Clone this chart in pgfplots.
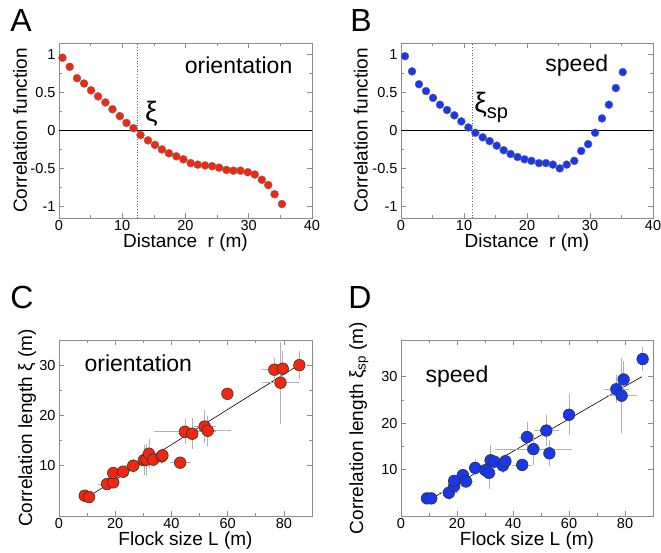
\documentclass[border=0pt]{standalone}
\usepackage{fontspec}
\setmainfont{Liberation Sans}
\usepackage{pgfplots}
\pgfplotsset{compat=1.18}
\definecolor{dotred}{RGB}{240,40,15}
\definecolor{dotblue}{RGB}{25,55,235}
\definecolor{framegray}{RGB}{140,140,140}

\pgfplotsset{
  panel/.style={
    scale only axis, anchor=south west,
    axis line style={framegray, line width=0.9pt},
    tick style={framegray, line width=0.6pt},
    major tick length=5pt, minor tick length=3pt,
    tick align=inside,
    ticklabel style={font=\fontsize{14.5}{14.5}\selectfont},
    xticklabel style={yshift=1.5pt},
    label style={font=\fontsize{19}{19}\selectfont},
    /pgf/number format/assume math mode=true,
    xlabel style={at={(axis description cs:0.5,-0.14)}, anchor=center, inner sep=1pt},
  },
  corr/.style={panel, width=253pt, height=175pt,
    xmin=0, xmax=40, ymin=-1.154, ymax=1.154,
    xtick={0,10,20,30,40}, ytick={-1,-0.5,0,0.5,1},
    yticklabels={-1,-0.5,0,0.5,1},
    minor x tick num=1, minor y tick num=1,
    xlabel={Distance\ \ r (m)}, ylabel={Correlation function}},
  sizeplot/.style={panel, width=253pt, height=176pt,
    xmin=0, xmax=90, ymin=0,
    xtick={0,20,40,60,80}, ytick={10,20,30},
    minor x tick num=1, minor y tick num=1,
    xlabel={Flock size L (m)}},
  dots/.style={only marks, mark=*, mark size=4pt,
    mark options={draw=black!55, line width=0.4pt, fill=#1}},
  bigdots/.style={only marks, mark=*, mark size=5.8pt,
    mark options={draw=black!80, line width=0.6pt, fill=#1},
    error bars/.cd, x dir=both, x explicit, y dir=both, y explicit,
    error bar style={gray!60, line width=0.6pt},
    error mark options={gray!60, mark size=2.5pt, line width=0.6pt}},
}

\pgfplotstableread{
x y
0.55 0.96
1.69 0.84
2.85 0.69
3.96 0.62
5.07 0.53
6.18 0.45
7.34 0.37
8.45 0.28
9.62 0.19
10.67 0.10
11.78 0.03
12.89 -0.06
14.06 -0.13
15.17 -0.19
16.27 -0.25
17.38 -0.30
18.55 -0.34
19.66 -0.38
20.82 -0.43
21.93 -0.45
23.09 -0.46
24.20 -0.47
25.31 -0.49
26.47 -0.52
27.58 -0.53
28.69 -0.53
29.85 -0.55
30.96 -0.58
32.07 -0.65
33.08 -0.72
34.08 -0.84
35.25 -0.97
}\orientcorr

\pgfplotstableread{
x y
0.63 0.98
1.75 0.78
2.86 0.61
3.97 0.52
5.08 0.43
6.19 0.34
7.30 0.27
8.47 0.20
9.58 0.12
10.69 0.04
11.80 -0.03
12.96 -0.09
14.07 -0.14
15.19 -0.20
16.30 -0.26
17.40 -0.31
18.50 -0.35
19.60 -0.38
20.70 -0.40
21.90 -0.43
23.00 -0.43
24.10 -0.45
25.20 -0.50
26.30 -0.45
27.50 -0.40
28.60 -0.27
29.70 -0.18
30.80 -0.03
31.90 0.16
33.00 0.34
34.10 0.56
35.20 0.77
}\speedcorr

\pgfplotstableread{
x y ex ey
9.15 4.04 1.0 0
10.7 3.77 0 0
17.1 6.36 2.5 0.5
19.3 6.69 0 0
19.3 8.54 0 0
22.8 8.81 1 0.5
26.4 10.0 2 0.8
30.2 11.1 1.5 2.5
31.1 11.2 1.5 2.7
32.0 12.4 1.5 2.4
33.5 11.2 0 0
36.5 11.85 1 1
36.8 12.05 1 1
43.1 10.6 2.9 0
44.8 16.75 10 2
47.4 16.36 0 2.6
51.8 17.8 3 2.7
52.9 16.95 7.3 2.5
59.9 24.3 0 0
76.6 29.1 3.5 1.8
79.6 29.3 0 3
78.8 26.5 5.7 7.7
85.5 30.0 0 2.3
}\orientlen

\pgfplotstableread{
x y ex ey
9.29 3.79 0 0
10.8 3.79 0 0
17.1 5.0 2.5 1
19.0 6.43 0 0
19.0 7.57 0 0
22.1 8.79 1 0.8
23.2 7.43 1.5 0.8
26.5 10.36 1.5 1.3
30.1 9.86 1.5 1
31.4 9.29 1.5 3
32.0 12.0 1.5 2.7
33.3 11.7 1 0.8
36.4 10.86 1 1
37.3 11.8 1 1
43.3 11.0 2.7 0
45.0 17.0 2 2.7
47.3 14.4 13 2.8
51.9 18.4 3.5 2.8
53.0 13.5 0 2.3
60.0 21.8 0 3.9
76.9 27.3 3.5 2.5
79.5 29.4 0 3.5
78.8 25.9 4.5 7.5
86.3 33.8 0 2
}\speedlen

\begin{document}
\begin{tikzpicture}
\useasboundingbox (0,0) rectangle (661pt,553pt);

% panel letters
\node[font=\fontsize{32}{32}\selectfont] at (21pt,532pt) {A};
\node[font=\fontsize{32}{32}\selectfont] at (361pt,532pt) {B};
\node[font=\fontsize{32}{32}\selectfont] at (22pt,256pt) {C};
\node[font=\fontsize{32}{32}\selectfont] at (360pt,256pt) {D};

% A
\begin{axis}[corr, at={(59pt,335pt)},
  ylabel style={at={(axis description cs:-0.154,0.5)}, anchor=center}]
  \addplot[black, line width=0.6pt] coordinates {(0,0) (40,0)};
  \addplot[black!60, dotted, line width=0.7pt] coordinates {(12.4,-1.154) (12.4,1.154)};
  \addplot[dots=dotred] table[x=x,y=y] {\orientcorr};
  \node[font=\fontsize{23}{23}\selectfont] at (axis cs:28.4,0.86) {orientation};
  \node[font=\fontsize{28}{28}\selectfont] at (axis cs:14.6,0.22) {ξ};
\end{axis}

% B
\begin{axis}[corr, at={(401pt,335pt)}, width=252pt,
  ylabel style={at={(axis description cs:-0.159,0.5)}, anchor=center}]
  \addplot[black, line width=0.6pt] coordinates {(0,0) (40,0)};
  \addplot[black!60, dotted, line width=0.7pt] coordinates {(11.4,-1.154) (11.4,1.154)};
  \addplot[dots=dotblue] table[x=x,y=y] {\speedcorr};
  \node[font=\fontsize{23}{23}\selectfont] at (axis cs:27.9,0.86) {speed};
  \node[font=\fontsize{28}{28}\selectfont, anchor=west, inner sep=0pt] at (axis cs:11.6,0.3) {ξ{\fontsize{20}{20}\selectfont\raisebox{-6pt}{sp}}};
\end{axis}

% C
\begin{axis}[sizeplot, at={(59pt,37pt)}, ymax=35,
  ylabel={Correlation length ξ (m)},
  ylabel style={at={(axis description cs:-0.126,0.5)}, anchor=center}]
  \addplot[black, line width=0.6pt] coordinates {(10,3.7) (85.5,30.1)};
  \addplot[bigdots=dotred] table[x=x,y=y,x error=ex,y error=ey] {\orientlen};
  \node[font=\fontsize{23}{23}\selectfont] at (axis cs:28.2,30.4) {orientation};
\end{axis}

% D
\begin{axis}[sizeplot, at={(401pt,37pt)}, width=252pt, ymax=37.9,
  ylabel={Correlation length ξ\textsubscript{sp} (m)},
  ylabel style={at={(axis description cs:-0.167,0.5)}, anchor=center}]
  \addplot[black, line width=0.6pt] coordinates {(10.5,3.6) (86,30)};
  \addplot[bigdots=dotblue] table[x=x,y=y,x error=ex,y error=ey] {\speedlen};
  \node[font=\fontsize{23}{23}\selectfont] at (axis cs:20,30) {speed};
\end{axis}
\end{tikzpicture}
\end{document}
